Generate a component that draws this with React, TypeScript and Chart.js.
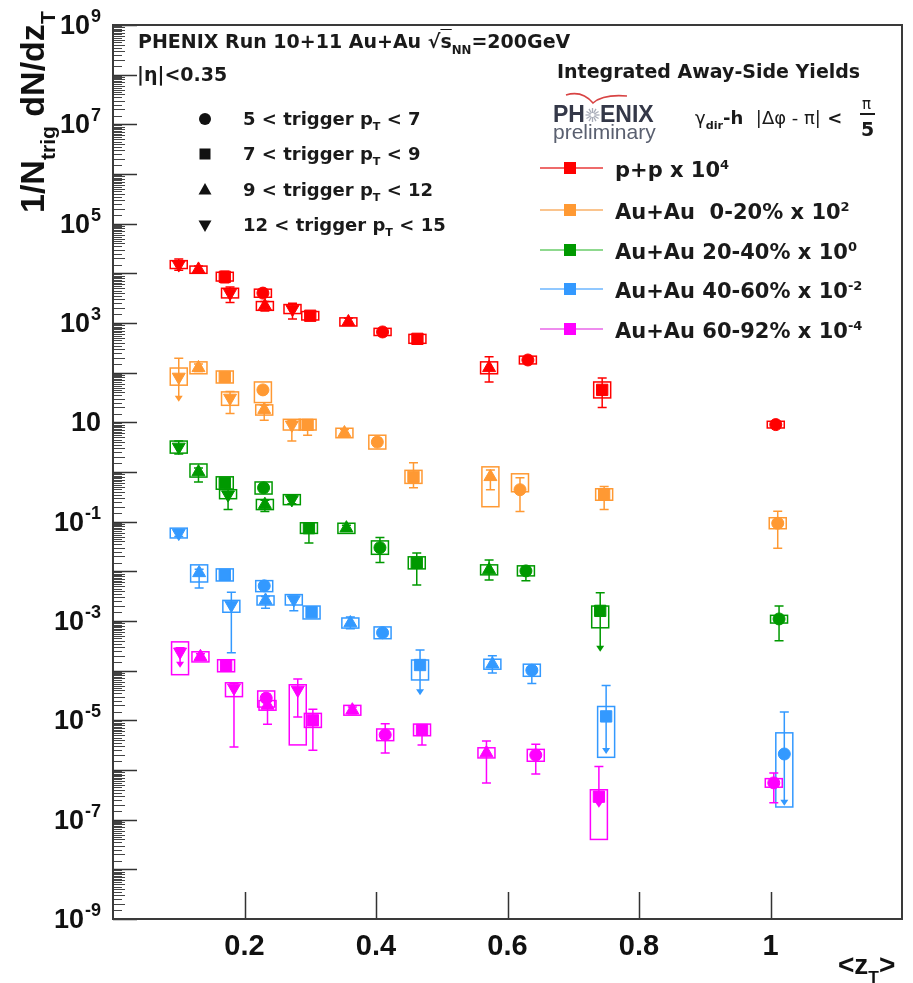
import React, { useEffect, useRef } from 'react';
import { Chart, registerables } from 'chart.js';

Chart.register(...registerables);

// ---------------- axis definitions ----------------
const X_MIN = 0;
const X_MAX = 1.2;
const xTickValues = [0.2, 0.4, 0.6, 0.8, 1.0];
const Y_MIN = 1e-9;
const Y_MAX = 1e9;
const yDecades = [9, 8, 7, 6, 5, 4, 3, 2, 1, 0, -1, -2, -3, -4, -5, -6, -7, -8, -9];
const yLabelledDecades = [9, 7, 5, 3, 1, -1, -3, -5, -7, -9];
const yMinorMultipliers = [1.5, 2, 2.5, 3, 3.5, 4, 4.5, 5, 5.5, 6, 6.5, 7, 7.5, 8, 8.5, 9, 9.5];

// ---------------- trigger bins (marker shape index) ----------------
// 0: 5-7 circle, 1: 7-9 square, 2: 9-12 triangle up, 3: 12-15 triangle down
const triggerLow = ['5', '7', '9', '12'];
const triggerHigh = ['7', '9', '12', '15'];
const triggerCmp = ['<', '<', '<', '<'];

// ---------------- series data ----------------
const seriesNames = ['p+p x 10', 'Au+Au  0-20% x 10', 'Au+Au 20-40% x 10', 'Au+Au 40-60% x 10', 'Au+Au 60-92% x 10'];
const seriesScaleExp = ['4', '2', '0', '-2', '-4'];

// p+p x 10^4
const ppZT = [0.100, 0.130, 0.170, 0.178, 0.228, 0.231, 0.273, 0.300, 0.358, 0.410, 0.463, 0.572, 0.631, 0.744, 1.008];
const ppTrig = [3, 2, 1, 3, 0, 2, 3, 1, 2, 0, 1, 2, 0, 1, 0];
const ppYield = [15000, 12000, 8500, 4000, 4000, 2200, 1900, 1400, 1050, 660, 480, 125, 180, 45, 9];
const ppStat = [[11500, 19500], [10000, 14000], [6500, 11000], [2600, 5300], [3300, 4800], [1750, 2700], [1200, 2500], [1150, 1700], [900, 1250], [570, 760], [400, 570], [65, 208], [160, 205], [20, 78], [8, 10.3]];
const ppSys = [[12500, 18000], [10000, 14000], [7000, 10500], [3200, 5000], [3300, 4800], [1800, 2700], [1550, 2350], [1150, 1700], [870, 1270], [560, 780], [390, 590], [95, 165], [150, 215], [31, 65], [7.7, 10.5]];
const ppLimits: number[] = [];

// Au+Au 0-20% x 10^2
const c020ZT = [0.100, 0.130, 0.170, 0.178, 0.228, 0.230, 0.272, 0.296, 0.352, 0.402, 0.457, 0.574, 0.619, 0.747, 1.011];
const c020Trig = [3, 2, 1, 3, 0, 2, 3, 1, 2, 0, 1, 2, 0, 1, 0];
const c020Yield = [82, 125, 82, 31, 45, 18, 8.9, 8.9, 6.1, 4.0, 0.8, 0.8, 0.44, 0.35, 0.093];
const c020Stat = [[26, 195], [105, 150], [70, 96], [15, 42], [38, 53], [11, 22], [4.2, 11], [5.5, 11], [5.2, 7.2], [3.4, 4.8], [0.48, 1.53], [0.44, 1.1], [0.16, 0.77], [0.175, 0.51], [0.029, 0.162]];
const c020Sys = [[56, 124], [95, 165], [62, 108], [22, 41], [25, 65], [14, 22.5], [7, 11.5], [7, 11.5], [4.9, 7.6], [2.9, 5.5], [0.59, 1.08], [0.2, 1.27], [0.4, 0.92], [0.27, 0.46], [0.072, 0.12]];
const c020Limits = [0];

// Au+Au 20-40% x 10^0
const c2040ZT = [0.100, 0.130, 0.170, 0.175, 0.229, 0.231, 0.272, 0.298, 0.355, 0.406, 0.462, 0.572, 0.628, 0.741, 1.013];
const c2040Trig = [3, 2, 1, 3, 0, 2, 3, 1, 2, 0, 1, 2, 0, 1, 0];
const c2040Yield = [3.2, 1.0, 0.6, 0.35, 0.48, 0.22, 0.28, 0.074, 0.074, 0.030, 0.0148, 0.0107, 0.0102, 0.0016, 0.0011];
const c2040Stat = [[2.3, 4.2], [0.63, 1.2], [0.5, 0.72], [0.175, 0.45], [0.4, 0.57], [0.16, 0.27], [0.23, 0.34], [0.037, 0.093], [0.064, 0.085], [0.015, 0.048], [0.0053, 0.0235], [0.0067, 0.017], [0.0065, 0.0125], [0.00024, 0.0037], [0.0004, 0.002]];
const c2040Sys = [[2.4, 4.2], [0.79, 1.45], [0.45, 0.8], [0.29, 0.44], [0.36, 0.63], [0.175, 0.28], [0.22, 0.35], [0.058, 0.095], [0.058, 0.093], [0.022, 0.041], [0.0112, 0.0196], [0.0085, 0.0135], [0.0081, 0.0129], [0.00073, 0.002], [0.00091, 0.0013]];
const c2040Limits = [13];

// Au+Au 40-60% x 10^-2
const c4060ZT = [0.100, 0.131, 0.170, 0.180, 0.230, 0.232, 0.275, 0.302, 0.361, 0.410, 0.467, 0.577, 0.637, 0.750, 1.021];
const c4060Trig = [3, 2, 1, 3, 0, 2, 3, 1, 2, 0, 1, 2, 0, 1, 0];
const c4060Yield = [0.059, 0.0093, 0.0085, 0.0021, 0.0051, 0.0026, 0.0027, 0.0015, 0.00091, 0.00058, 0.00013, 0.000135, 0.000102, 1.2e-5, 2.1e-6];
const c4060Stat = [[0.05, 0.068], [0.0046, 0.011], [0.0074, 0.0098], [0.00023, 0.0038], [0.0044, 0.0058], [0.0018, 0.0031], [0.0016, 0.0032], [0.0013, 0.0017], [0.0007, 0.0012], [0.0005, 0.00066], [3.2e-5, 2.6e-4], [9e-5, 2e-4], [5.5e-5, 1.2e-4], [2.1e-6, 5.0e-5], [1.9e-7, 1.47e-5]];
const c4060Sys = [[0.047, 0.074], [0.0061, 0.0135], [0.0064, 0.0112], [0.0015, 0.0026], [0.0039, 0.0065], [0.0021, 0.0032], [0.0021, 0.0034], [0.0011, 0.002], [0.00072, 0.00115], [0.00044, 0.00076], [6.5e-5, 1.64e-4], [1.07e-4, 1.7e-4], [7.7e-5, 1.35e-4], [1.8e-6, 1.9e-5], [1.8e-7, 5.6e-6]];
const c4060Limits = [10, 13, 14];

// Au+Au 60-92% x 10^-4
const c6092ZT = [0.102, 0.133, 0.172, 0.184, 0.233, 0.235, 0.281, 0.304, 0.364, 0.414, 0.470, 0.568, 0.643, 0.739, 1.005];
const c6092Trig = [3, 2, 1, 3, 0, 2, 3, 1, 2, 0, 1, 2, 0, 1, 0];
const c6092Yield = [2.4e-4, 1.9e-4, 1.26e-4, 4.5e-5, 2.8e-5, 2.0e-5, 4.1e-5, 1.0e-5, 1.6e-5, 5.1e-6, 6.4e-6, 2.2e-6, 2.0e-6, 2.9e-7, 5.5e-7];
const c6092Stat = [[1.15e-4, 2.9e-4], [1.65e-4, 2.2e-4], [1.1e-4, 1.45e-4], [2.9e-6, 5.5e-5], [2.3e-5, 3.4e-5], [8.3e-6, 2.4e-5], [1.17e-5, 6.8e-5], [2.5e-6, 1.67e-5], [1.35e-5, 1.85e-5], [2.2e-6, 8.5e-6], [3.2e-6, 7.8e-6], [5.5e-7, 3.84e-6], [8.3e-7, 3.3e-6], [1.74e-7, 1.17e-6], [2.2e-7, 8.7e-7]];
const c6092Sys = [[8.3e-5, 3.8e-4], [1.5e-4, 2.4e-4], [9.5e-5, 1.66e-4], [3.0e-5, 5.7e-5], [1.85e-5, 3.9e-5], [1.6e-5, 2.5e-5], [3.2e-6, 5.2e-5], [7.2e-6, 1.38e-5], [1.27e-5, 2.0e-5], [3.9e-6, 6.7e-6], [4.9e-6, 8.4e-6], [1.75e-6, 2.8e-6], [1.5e-6, 2.6e-6], [4.0e-8, 4.0e-7], [4.5e-7, 6.7e-7]];
const c6092Limits = [0, 13];

// ---------------- styles ----------------
const markerColors = ['#ff0000', '#ff9933', '#009900', '#3399ff', '#ff00ff'];
const legendLineColors = ['#e83a3a', '#f9b068', '#6acc6a', '#6db6ff', '#e866e8'];
const shapeStyle = ['circle', 'rect', 'triangle', 'triangle'];
const shapeRotation = [0, 0, 0, 180];
const shapeRadius = [6, 8, 7.5, 7.5];
const TICK_FONT = '"Liberation Sans", Arial, sans-serif';

type Series = {
  zT: number[]; trig: number[]; y: number[]; stat: number[][]; sys: number[][]; limits: number[];
};
const allSeries: Series[] = [
  { zT: ppZT, trig: ppTrig, y: ppYield, stat: ppStat, sys: ppSys, limits: ppLimits },
  { zT: c020ZT, trig: c020Trig, y: c020Yield, stat: c020Stat, sys: c020Sys, limits: c020Limits },
  { zT: c2040ZT, trig: c2040Trig, y: c2040Yield, stat: c2040Stat, sys: c2040Sys, limits: c2040Limits },
  { zT: c4060ZT, trig: c4060Trig, y: c4060Yield, stat: c4060Stat, sys: c4060Sys, limits: c4060Limits },
  { zT: c6092ZT, trig: c6092Trig, y: c6092Yield, stat: c6092Stat, sys: c6092Sys, limits: c6092Limits },
];

// ---------------- plugins ----------------
const errorPlugin = {
  id: 'errorBoxes',
  beforeDatasetsDraw(chart: any) {
    const { ctx } = chart;
    const xs = chart.scales.x;
    const ys = chart.scales.y;
    ctx.save();
    allSeries.forEach((s, si) => {
      const col = markerColors[si];
      ctx.strokeStyle = col;
      ctx.fillStyle = col;
      ctx.lineWidth = 1.5;
      s.zT.forEach((zx, i) => {
        const px = xs.getPixelForValue(zx);
        const bTop = ys.getPixelForValue(s.sys[i][1]);
        const bBot = ys.getPixelForValue(s.sys[i][0]);
        ctx.strokeRect(px - 8.5, bTop, 17, bBot - bTop);
        const eTop = ys.getPixelForValue(s.stat[i][1]);
        const eBot = ys.getPixelForValue(s.stat[i][0]);
        const isLimit = s.limits.includes(i);
        ctx.beginPath();
        ctx.moveTo(px, eTop);
        ctx.lineTo(px, isLimit ? eBot - 5 : eBot);
        ctx.moveTo(px - 4.5, eTop);
        ctx.lineTo(px + 4.5, eTop);
        if (!isLimit) {
          ctx.moveTo(px - 4.5, eBot);
          ctx.lineTo(px + 4.5, eBot);
        }
        ctx.stroke();
        if (isLimit) {
          ctx.beginPath();
          ctx.moveTo(px - 4, eBot - 6);
          ctx.lineTo(px + 4, eBot - 6);
          ctx.lineTo(px, eBot);
          ctx.closePath();
          ctx.fill();
        }
      });
    });
    ctx.restore();
  },
};

const framePlugin = {
  id: 'rootFrame',
  afterDraw(chart: any) {
    const { ctx, chartArea: a } = chart;
    const xs = chart.scales.x;
    const ys = chart.scales.y;
    ctx.save();
    ctx.strokeStyle = '#333';
    // major ticks
    ctx.lineWidth = 1.5;
    ctx.beginPath();
    xTickValues.forEach((v) => {
      const px = Math.round(xs.getPixelForValue(v)) + 0.5;
      ctx.moveTo(px, a.bottom);
      ctx.lineTo(px, a.bottom - 27);
    });
    yDecades.forEach((e) => {
      const py = Math.round(ys.getPixelForValue(Math.pow(10, e))) + 0.5;
      ctx.moveTo(a.left, py);
      ctx.lineTo(a.left + 24, py);
    });
    ctx.stroke();
    // minor ticks
    ctx.lineWidth = 1;
    ctx.strokeStyle = '#444';
    ctx.beginPath();
    yDecades.forEach((e) => {
      if (e > -9) {
        yMinorMultipliers.forEach((m) => {
          const pm = Math.round(ys.getPixelForValue(m * Math.pow(10, e - 1))) + 0.5;
          ctx.moveTo(a.left, pm);
          ctx.lineTo(a.left + (Number.isInteger(m) ? 12 : 9), pm);
        });
      }
    });
    ctx.stroke();
    // frame
    ctx.lineWidth = 2;
    ctx.strokeStyle = '#3a3a3a';
    ctx.strokeRect(a.left, a.top, a.right - a.left, a.bottom - a.top);
    // y tick labels: 10 with raised exponent
    ctx.fillStyle = '#111';
    ctx.textBaseline = 'alphabetic';
    ctx.textAlign = 'right';
    const rightEdge = a.left - 12;
    yLabelledDecades.forEach((e) => {
      const py = ys.getPixelForValue(Math.pow(10, e));
      let expW = 0;
      if (e !== 1) {
        ctx.font = `bold 18px ${TICK_FONT}`;
        const expStr = String(e);
        expW = ctx.measureText(expStr).width + 1;
        ctx.fillText(expStr, rightEdge, py - 3);
      }
      ctx.font = `bold 27px ${TICK_FONT}`;
      ctx.fillText('10', rightEdge - expW, py + 9);
    });
    ctx.restore();
  },
};

// ---------------- small text helpers ----------------
const Sub = ({ children, s = 0.62 }: any) => (
  <span style={{ fontSize: `${s}em`, position: 'relative', top: '0.5em' }}>{children}</span>
);
const Sup = ({ children, s = 0.62 }: any) => (
  <span style={{ fontSize: `${s}em`, position: 'relative', top: '-0.62em' }}>{children}</span>
);
const Txt = ({ x, base, fs, children, style }: any) => (
  <div
    style={{
      position: 'absolute', left: x, top: base - 0.846 * fs, fontSize: fs, lineHeight: 1,
      whiteSpace: 'pre', fontWeight: 'bold', fontFamily: '"DejaVu Sans", sans-serif', color: '#1a1a1a',
      ...style,
    }}
  >
    {children}
  </div>
);

const TriggerMarker = ({ kind, cx, cy }: any) => (
  <svg style={{ position: 'absolute', left: cx - 8, top: cy - 8 }} width={16} height={16}>
    {kind === 0 && <circle cx={8} cy={8} r={6} fill="#111" />}
    {kind === 1 && <rect x={2.5} y={2.5} width={11} height={11} fill="#111" />}
    {kind === 2 && <polygon points="8,1 14.5,12.5 1.5,12.5" fill="#111" />}
    {kind === 3 && <polygon points="8,15 14.5,3.5 1.5,3.5" fill="#111" />}
  </svg>
);

const triggerRowsY = [119, 154, 190, 225];
const legendRowsY = [168, 210, 250, 289, 329];

export default function App() {
  const ref = useRef<HTMLCanvasElement>(null);
  useEffect(() => {
    const canvas = ref.current;
    if (!canvas) return;
    const datasets = allSeries.map((s, si) => ({
      label: seriesNames[si],
      data: s.zT.map((zx, i) => ({ x: zx, y: s.y[i] })),
      backgroundColor: markerColors[si],
      borderColor: markerColors[si],
      borderWidth: 1,
      pointStyle: (c: any) => shapeStyle[s.trig[c.dataIndex]],
      rotation: (c: any) => shapeRotation[s.trig[c.dataIndex]],
      pointRadius: (c: any) => shapeRadius[s.trig[c.dataIndex]],
      showLine: false,
    }));
    const chart = new Chart(canvas, {
      type: 'scatter',
      data: { datasets } as any,
      options: {
        animation: false,
        responsive: false,
        maintainAspectRatio: false,
        layout: { padding: { left: 0, top: 25, right: 9, bottom: 0 } },
        plugins: { legend: { display: false }, tooltip: { enabled: false } },
        events: [],
        scales: {
          x: {
            type: 'linear',
            min: X_MIN,
            max: X_MAX,
            grid: { display: false, drawTicks: false },
            border: { display: false },
            ticks: {
              stepSize: 0.2,
              padding: 11,
              color: '#111',
              font: { family: TICK_FONT, size: 29, weight: 'bold' },
              callback: (v: any) => {
                const r = Math.round(Number(v) * 10) / 10;
                return xTickValues.some((t) => Math.abs(t - r) < 1e-6) ? String(r) : '';
              },
              maxRotation: 0,
              autoSkip: false,
            },
            afterFit: (s: any) => { s.height = 64; },
          },
          y: {
            type: 'logarithmic',
            min: Y_MIN,
            max: Y_MAX,
            grid: { display: false, drawTicks: false },
            border: { display: false },
            afterBuildTicks: (s: any) => {
              s.ticks = yDecades.map((e) => ({ value: Math.pow(10, e) }));
            },
            ticks: { display: false, autoSkip: false },
            afterFit: (s: any) => { s.width = 113; },
          },
        },
      } as any,
      plugins: [errorPlugin, framePlugin],
    });
    return () => chart.destroy();
  }, []);

  return (
    <div style={{ position: 'absolute', left: 0, top: 0, width: 913, height: 983, background: '#fff', overflow: 'hidden' }}>
      <canvas ref={ref} width={913} height={983} style={{ position: 'absolute', left: 0, top: 0, width: 913, height: 983 }} />

      {/* y axis title */}
      <div
        style={{
          position: 'absolute', left: 15, top: 213, transform: 'rotate(-90deg)', transformOrigin: '0 0',
          fontFamily: TICK_FONT, fontWeight: 'bold', fontSize: 34, lineHeight: 1,
          whiteSpace: 'pre', color: '#111',
        }}
      >
        1/N<Sub>trig</Sub> dN/dz<Sub>T</Sub>
      </div>

      {/* x axis title */}
      <Txt x={838} base={975} fs={28} style={{ fontFamily: TICK_FONT, color: '#111' }}>
        &lt;z<Sub>T</Sub>&gt;
      </Txt>

      {/* top-left annotations */}
      <Txt x={138} base={48} fs={19}>
        PHENIX Run 10+11 Au+Au {'\u221a'}<span style={{ textDecoration: 'overline' }}>s</span><Sub>NN</Sub>=200GeV
      </Txt>
      <Txt x={137} base={81} fs={19}>|{'\u03b7'}|&lt;0.35</Txt>

      {triggerLow.map((lo, i) => (
        <React.Fragment key={'trg' + i}>
          <TriggerMarker kind={i} cx={205} cy={triggerRowsY[i]} />
          <Txt x={243} base={triggerRowsY[i] + 6} fs={18}>
            {lo} &lt; trigger p<Sub>T</Sub> {triggerCmp[i]} {triggerHigh[i]}
          </Txt>
        </React.Fragment>
      ))}

      {/* right block */}
      <Txt x={557} base={78} fs={19}>Integrated Away-Side Yields</Txt>

      <svg style={{ position: 'absolute', left: 560, top: 88 }} width={75} height={20}>
        <path d="M6,7 Q22,2 33,15 Q43,6 67,8" stroke="#d84444" strokeWidth={1.6} fill="none" />
      </svg>
      <Txt x={553} base={122} fs={23} style={{ fontFamily: TICK_FONT, color: '#343848' }}>
        PH
        <svg width={15} height={16} style={{ verticalAlign: '-1px' }}>
          {Array.from({ length: 12 }).map((_, k) => {
            const ang = (k * Math.PI) / 6;
            return (
              <line key={k} x1={7.5 + Math.cos(ang) * 2} y1={8 + Math.sin(ang) * 2} x2={7.5 + Math.cos(ang) * 7}
                y2={8 + Math.sin(ang) * 7} stroke="#a8acb8" strokeWidth={1.3} />
            );
          })}
        </svg>
        ENIX
      </Txt>
      <Txt x={553} base={139} fs={21} style={{ fontFamily: TICK_FONT, fontWeight: 'normal', color: '#5a6070' }}>
        preliminary
      </Txt>

      <Txt x={695} base={124} fs={18}>
        <span style={{ fontWeight: 'normal' }}>{'\u03b3'}</span><Sub>dir</Sub>-h  <span style={{ fontWeight: 'normal' }}>|{'\u0394\u03c6'} - {'\u03c0'}|</span> &lt;
      </Txt>
      <Txt x={862} base={110} fs={15} style={{ fontWeight: 'normal' }}>{'\u03c0'}</Txt>
      <div style={{ position: 'absolute', left: 860, top: 113, width: 15, height: 1.6, background: '#1a1a1a' }} />
      <Txt x={861} base={136} fs={19}>5</Txt>

      {/* series legend */}
      {seriesNames.map((name, i) => (
        <React.Fragment key={'leg' + i}>
          <svg style={{ position: 'absolute', left: 540, top: legendRowsY[i] - 8 }} width={64} height={16}>
            <line x1={0} y1={8} x2={63} y2={8} stroke={legendLineColors[i]} strokeWidth={1.6} />
            <rect x={24} y={2} width={12} height={12} fill={markerColors[i]} />
          </svg>
          <Txt x={615} base={legendRowsY[i] + 10} fs={21}>
            {name}<Sup>{seriesScaleExp[i]}</Sup>
          </Txt>
        </React.Fragment>
      ))}
    </div>
  );
}
